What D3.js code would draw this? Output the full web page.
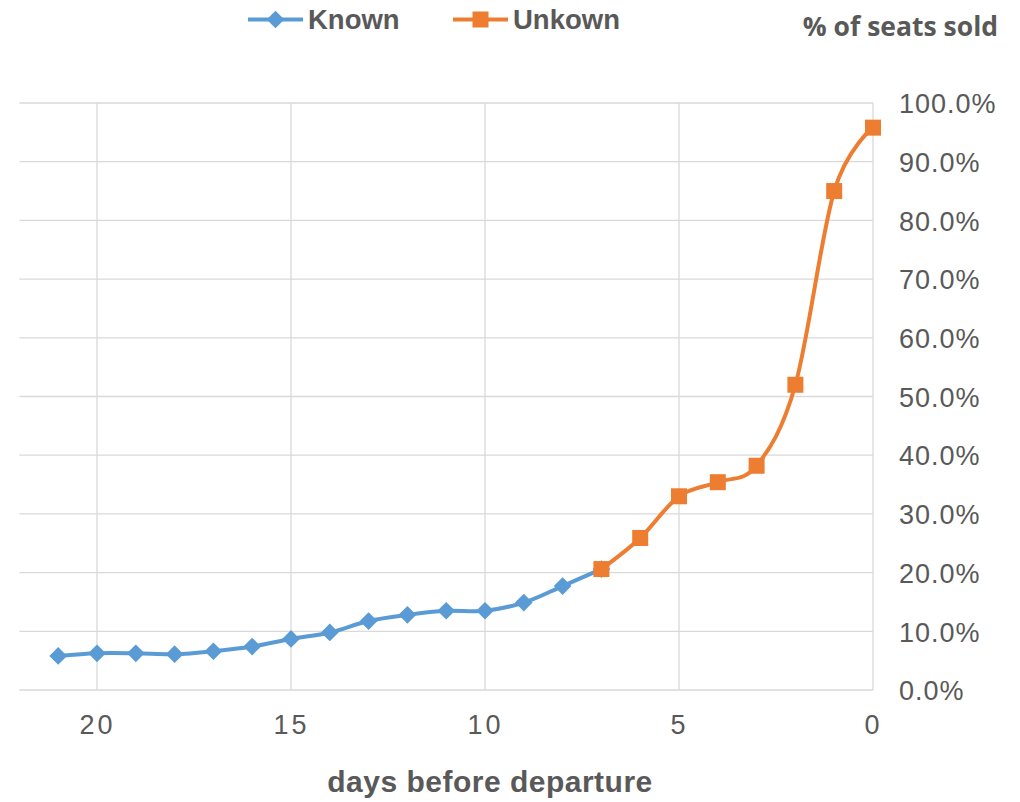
<!DOCTYPE html>
<html><head><meta charset="utf-8">
<script src="https://cdn.jsdelivr.net/npm/d3@7"></script>
<style>body{margin:0;background:#fff}svg{display:block}</style>
</head><body>
<svg id="c" width="1020" height="802"></svg>
<script>
const knownDays = [21,20,19,18,17,16,15,14,13,12,11,10,9,8,7];
const knownVals = [5.8,6.25,6.25,6.1,6.6,7.4,8.7,9.8,11.75,12.8,13.5,13.5,14.9,17.7,20.6];
const unknownDays = [7,6,5,4,3,2,1,0];
const unknownVals = [20.6,25.9,33.0,35.4,38.2,52.0,85.0,95.8];
const xTicks = [20,15,10,5,0];
const yTicks = [0,10,20,30,40,50,60,70,80,90,100];
const seriesNames = ["Known","Unkown"];
const colors = ["#5B9BD5","#ED7D31"];

const svg = d3.select("#c");
const x = d3.scaleLinear().domain([22,0]).range([19.4,873]);
const y = d3.scaleLinear().domain([0,100]).range([690,103]);
const grey = "#595959";

// gridlines
svg.append("g").selectAll("line").data(yTicks).join("line")
  .attr("x1",x(22)).attr("x2",x(0)).attr("y1",d=>y(d)).attr("y2",d=>y(d))
  .attr("stroke","#D9D9D9").attr("stroke-width",1.3);
svg.append("g").selectAll("line").data(xTicks).join("line")
  .attr("x1",d=>x(d)).attr("x2",d=>x(d)).attr("y1",y(0)).attr("y2",y(100))
  .attr("stroke","#D9D9D9").attr("stroke-width",1.3);

// y axis labels (right)
const yAxis = d3.axisRight(y).tickValues(yTicks).tickSize(0).tickPadding(0)
  .tickFormat(d=>d3.format(".1f")(d)+"%");
const gy = svg.append("g").attr("transform",`translate(899,0)`).call(yAxis);
gy.select(".domain").remove();
gy.selectAll("text").attr("fill",grey).style("font-family","Liberation Sans, Arial, sans-serif")
  .style("font-size","27px").style("letter-spacing","1px").attr("dy","0.36em");

// x axis labels
const xAxis = d3.axisBottom(x).tickValues(xTicks).tickSize(0).tickPadding(0).tickFormat(d3.format("d"));
const gx = svg.append("g").attr("transform",`translate(0,715)`).call(xAxis);
gx.select(".domain").remove();
gx.selectAll("text").attr("fill",grey).style("font-family","Liberation Sans, Arial, sans-serif")
  .style("font-size","27px").style("letter-spacing","3px").attr("dy","0.7em");

// lines
const line = d3.line().x(d=>x(d[0])).y(d=>y(d[1])).curve(d3.curveCatmullRom.alpha(0));
const known = knownDays.map((d,i)=>[d,knownVals[i]]);
const unknown = unknownDays.map((d,i)=>[d,unknownVals[i]]);
svg.append("path").datum(known).attr("d",line).attr("fill","none")
  .attr("stroke",colors[0]).attr("stroke-width",4).attr("stroke-linejoin","round");
svg.append("path").datum(unknown).attr("d",line).attr("fill","none")
  .attr("stroke",colors[1]).attr("stroke-width",4).attr("stroke-linejoin","round");

const diamond = d3.symbol().type(d3.symbolDiamond2).size(200);
svg.append("g").selectAll("path").data(known).join("path")
  .attr("transform",d=>`translate(${x(d[0])},${y(d[1])})`).attr("d",diamond).attr("fill",colors[0]);
svg.append("g").selectAll("rect").data(unknown).join("rect")
  .attr("x",d=>x(d[0])-8).attr("y",d=>y(d[1])-8).attr("width",16).attr("height",16).attr("fill",colors[1]);

// legend
const leg = [{x0:248,x1:303,name:seriesNames[0],c:colors[0],t:"d"},{x0:453,x1:508,name:seriesNames[1],c:colors[1],t:"s"}];
leg.forEach(l=>{
  const g = svg.append("g");
  g.append("line").attr("x1",l.x0).attr("x2",l.x1).attr("y1",19.5).attr("y2",19.5).attr("stroke",l.c).attr("stroke-width",4);
  const cx=(l.x0+l.x1)/2;
  if(l.t==="d") g.append("path").attr("transform",`translate(${cx},19.5)`).attr("d",diamond).attr("fill",l.c);
  else g.append("rect").attr("x",cx-8).attr("y",11.5).attr("width",16).attr("height",16).attr("fill",l.c);
  g.append("text").attr("x",l.x1+5).attr("y",28.5).text(l.name).attr("fill",grey)
   .style("font-family","Liberation Sans, Arial, sans-serif").style("font-weight","bold").style("font-size","27.5px");
});

// titles
svg.append("text").attr("x",998).attr("y",36).attr("text-anchor","end").text("% of seats sold")
  .attr("fill",grey).style("font-family","Open Sans, sans-serif").style("font-weight","bold").style("font-size","26.5px");
svg.append("text").attr("x",490).attr("y",792).attr("text-anchor","middle").text("days before departure")
  .attr("fill",grey).style("font-family","Liberation Sans, Arial, sans-serif").style("font-weight","bold")
  .style("font-size","30px").style("letter-spacing","0.5px");
</script>
</body></html>
